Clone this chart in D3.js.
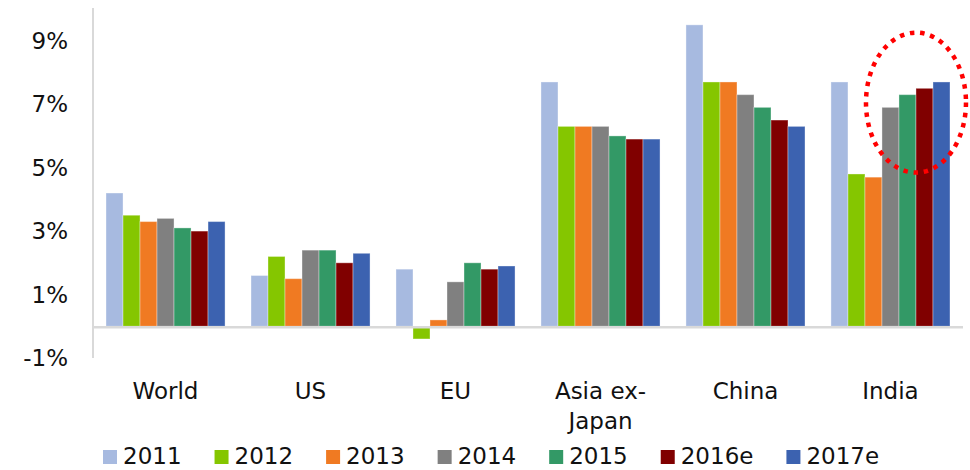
<!DOCTYPE html>
<html>
<head>
<meta charset="utf-8">
<script src="https://cdn.jsdelivr.net/npm/d3@7"></script>
<style>
  html, body { margin: 0; padding: 0; background: #fff; }
  svg { display: block; font-family: "DejaVu Sans", Verdana, sans-serif; }
</style>
</head>
<body>
<svg id="chart" width="970" height="470"></svg>
<script>
const categories = ["World", "US", "EU", "Asia ex-Japan", "China", "India"];
const seriesNames = ["2011", "2012", "2013", "2014", "2015", "2016e", "2017e"];
const s2011  = [4.2, 1.6, 1.8, 7.7, 9.5, 7.7];
const s2012  = [3.5, 2.2, -0.4, 6.3, 7.7, 4.8];
const s2013  = [3.3, 1.5, 0.2, 6.3, 7.7, 4.7];
const s2014  = [3.4, 2.4, 1.4, 6.3, 7.3, 6.9];
const s2015  = [3.1, 2.4, 2.0, 6.0, 6.9, 7.3];
const s2016e = [3.0, 2.0, 1.8, 5.9, 6.5, 7.5];
const s2017e = [3.3, 2.3, 1.9, 5.9, 6.3, 7.7];
const yTicks = [-1, 1, 3, 5, 7, 9];
const colors = ["#a7bae0", "#85c600", "#f07a22", "#808080", "#339966", "#800000", "#3c62b0"];

const series = [s2011, s2012, s2013, s2014, s2015, s2016e, s2017e];
const rows = categories.map((c, i) => ({cat: c, vals: series.map((s, j) => ({key: seriesNames[j], v: s[i]}))}));

const svg = d3.select("#chart");
const mLeft = 93, mRight = 963, mTop = 9, mBottom = 358;

const y = d3.scaleLinear().domain([-1, 10]).range([mBottom, mTop]);
const x0 = d3.scaleBand().domain(categories).range([mLeft, mRight]).paddingInner(0.179).paddingOuter(0.0897);
const x1 = d3.scaleBand().domain(seriesNames).range([0, x0.bandwidth()]);
const color = d3.scaleOrdinal().domain(seriesNames).range(colors);

// y axis line
svg.append("line").attr("x1", mLeft).attr("x2", mLeft).attr("y1", y(10) - 1).attr("y2", y(-1))
  .attr("stroke", "#d9d9d9").attr("stroke-width", 2);

// tick labels
const yAxis = d3.axisLeft(y).tickValues(yTicks).tickSize(0).tickPadding(25).tickFormat(d => d + "%");
const ga = svg.append("g").attr("transform", `translate(${mLeft},0)`).call(yAxis);
ga.select(".domain").remove();
ga.selectAll("text").attr("font-size", 23).attr("fill", "#111").attr("font-family", "DejaVu Sans, Verdana, sans-serif").attr("dy", "0.33em");

// bars
const groups = svg.append("g").selectAll("g").data(rows).join("g")
  .attr("transform", d => `translate(${x0(d.cat)},0)`);
groups.selectAll("rect").data(d => d.vals).join("rect")
  .attr("x", d => x1(d.key))
  .attr("width", x1.bandwidth())
  .attr("y", d => y(Math.max(0, d.v)))
  .attr("height", d => Math.abs(y(d.v) - y(0)))
  .attr("fill", d => color(d.key))
  .attr("stroke", "#ffffff").attr("stroke-opacity", 0.35).attr("stroke-width", 1);

// zero line
svg.append("line").attr("x1", mLeft).attr("x2", mRight).attr("y1", y(0) + 1).attr("y2", y(0) + 1)
  .attr("stroke", "#d9d9d9").attr("stroke-width", 2.5);

// category labels
const cl = svg.append("g").selectAll("text").data(categories).join("text")
  .attr("x", d => x0(d) + x0.bandwidth() / 2)
  .attr("y", 399)
  .attr("text-anchor", "middle")
  .attr("font-size", 23)
  .attr("fill", "#111");
cl.each(function(d) {
  const t = d3.select(this);
  if (d === "Asia ex-Japan") {
    t.append("tspan").attr("x", x0(d) + x0.bandwidth() / 2).text("Asia ex-");
    t.append("tspan").attr("x", x0(d) + x0.bandwidth() / 2).attr("dy", 30).text("Japan");
  } else {
    t.text(d);
  }
});

// annotation ellipse around India 2014-2017e
const iStart = x0("India") + x1("2014");
const iEnd = x0("India") + x1("2017e") + x1.bandwidth();
svg.append("ellipse")
  .attr("cx", (iStart + iEnd) / 2)
  .attr("cy", y(7.05))
  .attr("rx", 50)
  .attr("ry", 70)
  .attr("fill", "none")
  .attr("stroke", "#ff0000")
  .attr("stroke-width", 4.5)
  .attr("stroke-dasharray", "4.5 5.8");

// legend
const lg = svg.append("g");
let lx = 103;
seriesNames.forEach((name, i) => {
  lg.append("rect").attr("x", lx).attr("y", 450).attr("width", 14).attr("height", 14).attr("fill", colors[i]);
  const t = lg.append("text").attr("x", lx + 20).attr("y", 464).attr("font-size", 23).attr("fill", "#111").text(name);
  const w = t.node().getComputedTextLength();
  lx = lx + 20 + w + 33;
});
</script>
</body>
</html>
